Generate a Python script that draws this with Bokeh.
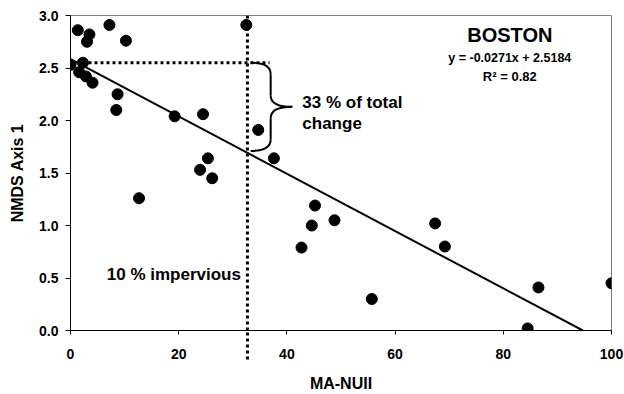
from bokeh.plotting import figure
from bokeh.models import ColumnDataSource, Label, Arrow, FixedTicker, NumeralTickFormatter
from bokeh.embed import file_html
from bokeh.resources import INLINE

# ---- data ----
ma_nuii = [0.0, 1.35, 3.5, 3.05, 7.2, 10.25, 32.5, 2.3, 1.6, 2.85, 4.07, 8.7, 8.46,
           19.25, 24.5, 34.7, 37.6, 25.4, 23.95, 26.2, 12.67, 42.7, 44.6, 45.2,
           48.8, 67.4, 69.2, 55.7, 86.5, 84.5, 100.0]
nmds1 = [2.53, 2.86, 2.82, 2.75, 2.91, 2.76, 2.91, 2.55, 2.46, 2.42, 2.36, 2.25, 2.10,
         2.04, 2.06, 1.91, 1.64, 1.64, 1.53, 1.45, 1.26, 0.79, 1.00, 1.19,
         1.05, 1.02, 0.80, 0.30, 0.41, 0.02, 0.45]

fit_x = [0.0, 94.7]
fit_y = [2.585, 0.0]

threshold_x = 32.7        # 10 % impervious
start_y = 2.55            # NMDS value at 0 % development
end_y = 1.71              # fitted value at the threshold
hline_end_x = 36.8

x_ticks = [0, 20, 40, 60, 80, 100]
y_ticks = [0.0, 0.5, 1.0, 1.5, 2.0, 2.5, 3.0]

FONT = "Liberation Sans"

p = figure(width=624, height=394, x_range=(0, 100), y_range=(0, 3.0),
           output_backend="svg", toolbar_location=None, title=None,
           min_border_left=70, min_border_right=13, min_border_top=15, min_border_bottom=0)

p.background_fill_color = "white"
p.border_fill_color = "white"
p.outline_line_color = "#808080"
p.outline_line_width = 1
p.xgrid.grid_line_color = None
p.ygrid.grid_line_color = None

for ax in (p.xaxis[0], p.yaxis[0]):
    ax.axis_line_color = "black"
    ax.major_tick_line_color = "black"
    ax.minor_tick_line_color = None
    ax.major_tick_in = 0
    ax.major_label_text_font = FONT
    ax.major_label_text_font_style = "bold"
    ax.major_label_text_font_size = "14px"
    ax.major_label_text_color = "black"
    ax.axis_label_text_font = FONT
    ax.axis_label_text_font_style = "bold"
    ax.axis_label_text_font_size = "16px"
    ax.axis_label_text_color = "black"

# the threshold line continues below the x axis: drawn as the axis's one minor tick
MINOR_OUT = 29
p.xaxis.ticker = FixedTicker(ticks=x_ticks, minor_ticks=[threshold_x])
p.xaxis.minor_tick_line_color = "black"
p.xaxis.minor_tick_line_width = 3
p.xaxis.minor_tick_line_dash = "3 3"
p.xaxis.minor_tick_line_cap = "butt"
p.xaxis.minor_tick_in = 0
p.xaxis.minor_tick_out = MINOR_OUT

p.yaxis.ticker = FixedTicker(ticks=y_ticks)
p.yaxis.formatter = NumeralTickFormatter(format="0.0")
p.xaxis.major_tick_out = 4
p.yaxis.major_tick_out = 5
# labels are offset from the longest tick, so pull them back up
p.xaxis.major_label_standoff = 14 - (MINOR_OUT - 4)
p.yaxis.major_label_standoff = 7
p.xaxis.axis_label = "MA-NUII"
p.yaxis.axis_label = "NMDS Axis 1"
p.xaxis.axis_label_standoff = 13
p.yaxis.axis_label_standoff = 10

# regression line
p.line(fit_x, fit_y, line_color="black", line_width=2)

# dotted guide lines
p.line([0, hline_end_x], [start_y, start_y], line_color="black", line_width=3,
       line_dash="3 3", line_cap="butt")
p.add_layout(Arrow(end=None, x_start=threshold_x, y_start=3.0, x_end=threshold_x,
                   y_end=0.0, line_color="black", line_width=3,
                   line_dash="3 3", line_cap="butt"))

# curly brace between start_y and end_y
bx0 = threshold_x + 0.6
bxs = 37.0
bxt = 41.0
mid = (start_y + end_y) / 2
hgt = start_y - end_y
r = hgt * 0.13
src_b = ColumnDataSource(dict(
    x0=[bx0, bxs, bxs, bx0],
    y0=[start_y, mid - r, mid + r, end_y],
    x1=[bxs, bxt, bxt, bxs],
    y1=[start_y - r, mid, mid, end_y + r],
    cx0=[bxs, bxs, bxs, bxs],
    cy0=[start_y, mid, mid, end_y],
))
p.quadratic(x0="x0", y0="y0", x1="x1", y1="y1", cx="cx0", cy="cy0", source=src_b,
            line_color="black", line_width=2)
p.segment(x0=[bxs, bxs], y0=[start_y - r, mid - r], x1=[bxs, bxs], y1=[mid + r, end_y + r],
          line_color="black", line_width=2)

# data points
p.scatter(ma_nuii, nmds1, size=11, fill_color="black", line_color="black")

# texts
def lab(x, y, text, size, align="left", baseline="middle"):
    p.add_layout(Label(x=x, y=y, text=text, text_font=FONT, text_font_style="bold",
                       text_font_size=size, text_align=align, text_baseline=baseline,
                       text_color="black"))

lab(81.2, 2.81, "BOSTON", "20px", "center")
lab(81.2, 2.60, "y = -0.0271x + 2.5184", "12.5px", "center")
lab(81.2, 2.415, "R² = 0.82", "13px", "center")
lab(42.85, 2.17, "33 % of total", "17px")
lab(42.85, 1.97, "change", "17px")
lab(6.7, 0.53, "10 % impervious", "17px")

open("out.html", "w").write(file_html(p, INLINE))
